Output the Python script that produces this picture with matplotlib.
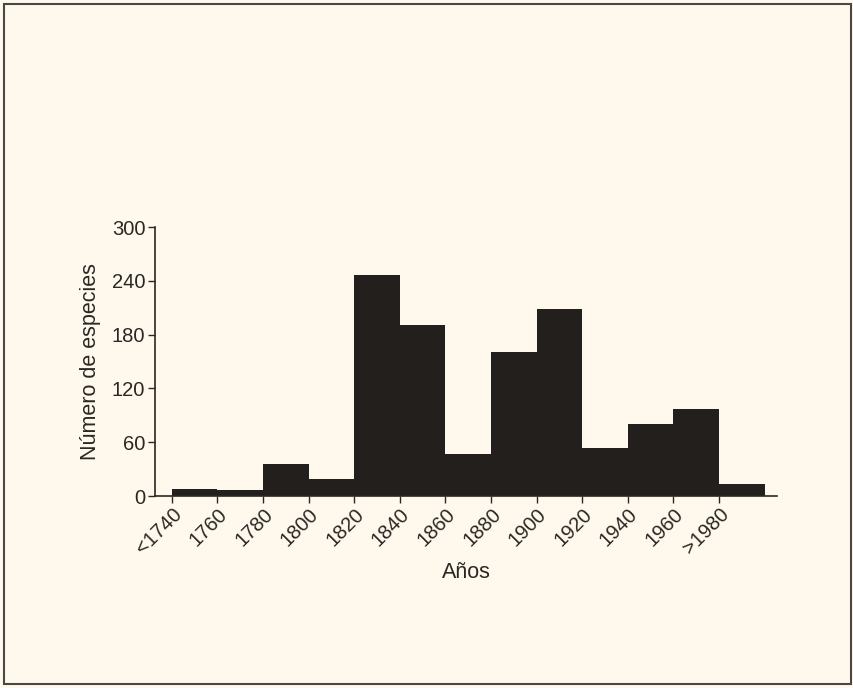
import numpy as np
import matplotlib.pyplot as plt
from matplotlib.patches import Rectangle

plt.rcParams['font.family'] = ['Liberation Sans', 'DejaVu Sans']

labels = ['<1740', '1760', '1780', '1800', '1820', '1840', '1860',
          '1880', '1900', '1920', '1940', '1960', '>1980']
counts = [8, 7, 36, 19, 247, 191, 47, 161, 209, 54, 80, 97, 13]

bg = '#fff8ec'
bar_color = '#231f1c'
ink = '#2a2724'

fig = plt.figure(figsize=(8.54, 6.88), dpi=100, facecolor=bg)
fig.patches.append(Rectangle((4 / 854, 4 / 688), 847 / 854, 680 / 688,
                             transform=fig.transFigure, fill=False,
                             edgecolor='#4a4845', linewidth=1.5))

ax = fig.add_axes([0.1815, 0.279, 0.7283, 0.391])
ax.set_facecolor(bg)

x = np.arange(len(counts))
ax.bar(x, counts, width=1.0, align='edge', color=bar_color, linewidth=0)

ax.set_xlim(-0.37, 13.27)
ax.set_ylim(0, 300)
ax.set_yticks([0, 60, 120, 180, 240, 300])
ax.set_xticks(x)
ax.set_xticklabels(labels, rotation=45, ha='right', rotation_mode='anchor')

for s in ['top', 'right']:
    ax.spines[s].set_visible(False)
for s in ['left', 'bottom']:
    ax.spines[s].set_color(ink)
    ax.spines[s].set_linewidth(1.2)

ax.tick_params(axis='both', labelsize=14.5, colors=ink, length=5, width=1.0, pad=2)
ax.tick_params(axis='x', pad=1)

ax.set_ylabel('Número de especies', fontsize=15.5, color=ink, labelpad=8)
ax.set_xlabel('Años', fontsize=15.5, color=ink, labelpad=3)

fig.savefig('out.png', dpi=100, facecolor=bg)
